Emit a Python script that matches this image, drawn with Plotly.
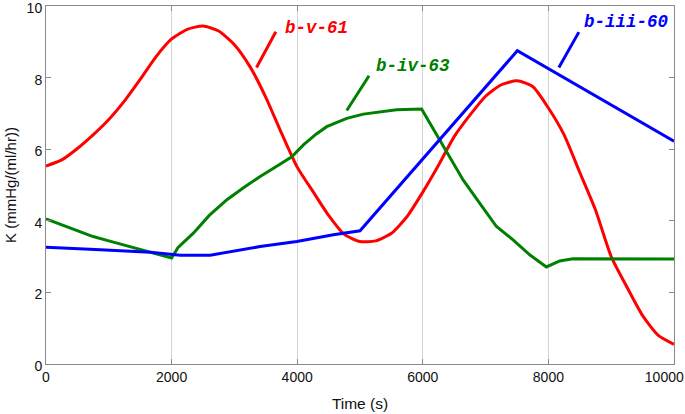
import plotly.graph_objects as go

# ---- data ----
red_x = [0, 250, 500, 750, 1000, 1250, 1500, 1750, 2000, 2250, 2500, 2750, 3000, 3250,
         3500, 3750, 4000, 4250, 4500, 4750, 5000, 5250, 5500, 5750, 6000, 6250, 6500,
         6750, 7000, 7250, 7500, 7750, 8000, 8250, 8500, 8750, 9000, 9250, 9500, 9750, 10000]
red_y = [5.53, 5.70, 6.02, 6.40, 6.83, 7.35, 7.95, 8.58, 9.08, 9.35, 9.44, 9.30, 8.92, 8.30,
         7.45, 6.45, 5.50, 4.82, 4.15, 3.62, 3.42, 3.44, 3.65, 4.12, 4.80, 5.55, 6.35,
         6.95, 7.48, 7.80, 7.91, 7.75, 7.15, 6.40, 5.35, 4.30, 3.00, 2.15, 1.35, 0.80, 0.55]

green_x = [0, 250, 500, 750, 1000, 1250, 1500, 1750, 2000, 2100, 2350, 2600, 2881, 3150,
           3410, 3700, 3914, 4099, 4300, 4470, 4789, 5053, 5266, 5583, 5981, 6272, 6642,
           6908, 7173, 7437, 7703, 7968, 8180, 8391, 10000]
green_y = [4.05, 3.88, 3.72, 3.56, 3.44, 3.32, 3.20, 3.08, 2.96, 3.25, 3.66, 4.15, 4.59, 4.93,
           5.24, 5.55, 5.79, 6.12, 6.42, 6.63, 6.86, 6.98, 7.02, 7.10, 7.12, 6.26, 5.14,
           4.49, 3.84, 3.47, 3.05, 2.71, 2.88, 2.94, 2.93]

blue_x = [0, 300, 866, 1661, 2000, 2138, 2615, 3410, 3994, 4576, 5000, 7505, 10000]
blue_y = [3.26, 3.24, 3.19, 3.12, 3.07, 3.04, 3.04, 3.28, 3.42, 3.61, 3.72, 8.75, 6.22]

x_ticks = [0, 2000, 4000, 6000, 8000, 10000]
x_tick_text = ["0", "2000", "4000", "6000", "8000", "10000\u00a0\u00a0\u00a0\u00a0\u00a0"]
y_ticks = [0, 2, 4, 6, 8, 10]

labels = ["b-v-61", "b-iv-63", "b-iii-60"]
label_colors = ["#ff0000", "#008000", "#0000ff"]
label_pos = [(3766, 9.39), (5219, 8.33), (8539, 9.54)]
leader_lines = [((3660, 9.28), (3352, 8.28)),
                ((5144, 8.05), (4789, 7.08)),
                ((8485, 9.27), (8167, 8.28))]

fig = go.Figure()
fig.add_trace(go.Scatter(x=red_x, y=red_y, mode="lines", line=dict(color="#ff0000", width=3, shape="spline", smoothing=0.6)))
fig.add_trace(go.Scatter(x=green_x, y=green_y, mode="lines", line=dict(color="#008000", width=3)))
fig.add_trace(go.Scatter(x=blue_x, y=blue_y, mode="lines", line=dict(color="#0000ff", width=3)))

for txt, col, (lx, ly), ((x0, y0), (x1, y1)) in zip(labels, label_colors, label_pos, leader_lines):
    fig.add_annotation(x=lx, y=ly, xref="x", yref="y", text="<b><i>" + txt + "</i></b>",
                       showarrow=False, xanchor="left", yanchor="middle",
                       font=dict(family="Liberation Mono", size=17.5, color=col))
    fig.add_shape(type="line", x0=x0, y0=y0, x1=x1, y1=y1, xref="x", yref="y",
                  line=dict(color=col, width=3))

axis_common = dict(showline=True, linecolor="#8a8a8a", linewidth=1, mirror="ticks",
                   ticks="inside", ticklen=5, tickcolor="#8a8a8a", zeroline=False,
                   automargin=False, ticklabeloverflow="allow",
                   tickfont=dict(family="Liberation Sans, Arial", size=14, color="#111"))

fig.update_xaxes(range=[0, 10000], tickvals=x_ticks, ticktext=x_tick_text,
                 showgrid=True, gridcolor="#d4d4d4", gridwidth=1,
                 title=dict(text="Time (s)", font=dict(family="Liberation Sans, Arial", size=15.5, color="#111"), standoff=14),
                 **axis_common)
fig.update_yaxes(range=[0, 10], tickvals=y_ticks, ticktext=[str(v) for v in y_ticks],
                 showgrid=False, ticklabelshift=2,
                 title=dict(text="K (mmHg/(ml/hr))", font=dict(family="Liberation Sans, Arial", size=15, color="#111"), standoff=6),
                 **axis_common)

fig.update_layout(width=685, height=414, margin=dict(l=46, r=11, t=6, b=50),
                  plot_bgcolor="white", paper_bgcolor="white", showlegend=False)

fig.write_html("out.html", config={"displayModeBar": False},
               post_script="document.body.style.margin='0';document.body.style.overflow='hidden';")
